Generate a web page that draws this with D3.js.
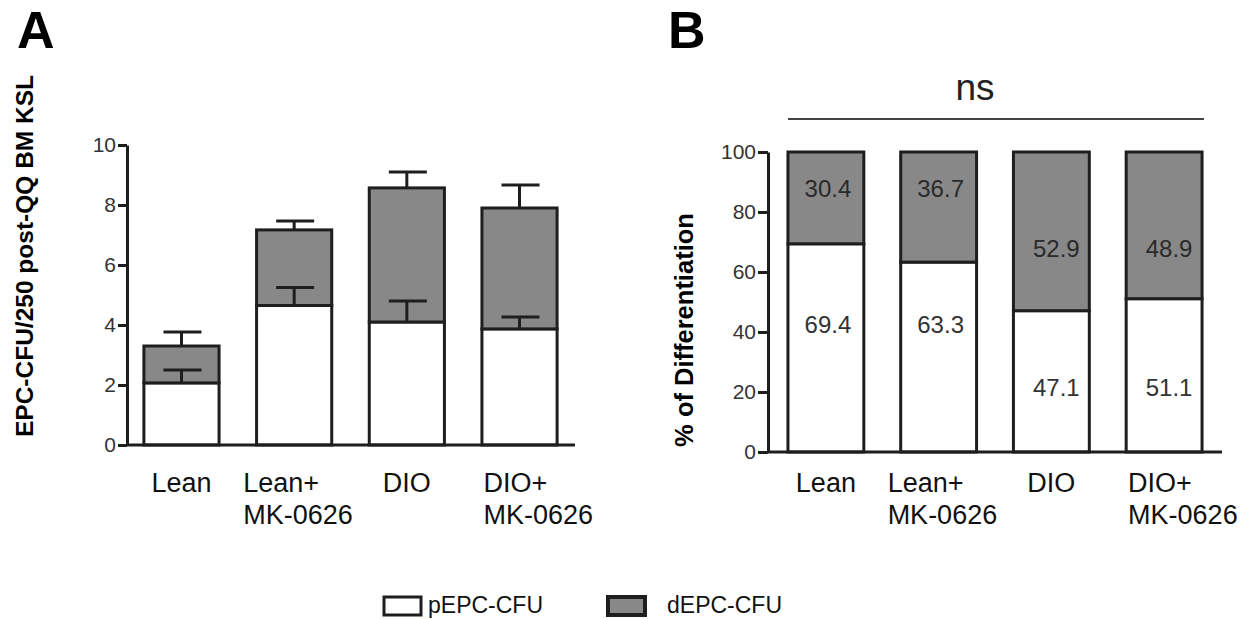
<!DOCTYPE html>
<html>
<head>
<meta charset="utf-8">
<script src="https://cdn.jsdelivr.net/npm/d3@7"></script>
<style>
  body { margin: 0; background: #fff; }
  svg { display: block; font-family: "Liberation Sans", Arial, Helvetica, sans-serif; }
</style>
</head>
<body>
<svg width="1254" height="619"></svg>
<script>
// groups and their two-line tick labels
var groups = ["Lean", "Lean+MK", "DIO", "DIO+MK"];
var groupLabels = [["Lean"], ["Lean+", "MK-0626"], ["DIO"], ["DIO+", "MK-0626"]];

// panel A: colonies per 250 KSL cells (mean, sem)
var pEpc = [2.07, 4.65, 4.1, 3.87];
var pEpcSem = [0.43, 0.6, 0.7, 0.4];
var dEpc = [1.23, 2.52, 4.47, 4.03];
var dEpcSem = [0.47, 0.3, 0.53, 0.77];
var ticksA = [0, 2, 4, 6, 8, 10];

// panel B: % of differentiation
var pPct = [69.4, 63.3, 47.1, 51.1];
var dPct = [30.4, 36.7, 52.9, 48.9];
var ticksB = [0, 20, 40, 60, 80, 100];

var legendNames = ["pEPC-CFU", "dEPC-CFU"];

var ink = "#1e1e1e", grey = "#888888", txt = "#333";
var svg = d3.select("svg");

function styleAxis(g) {
  g.selectAll("path, line").attr("stroke", ink).attr("stroke-width", 3);
  g.selectAll("text").attr("fill", txt).attr("font-size", 21)
    .attr("font-family", "'Liberation Sans', Arial, sans-serif");
}

function xLabels(g, x, y0) {
  groups.forEach(function(k, i) {
    var lines = groupLabels[i];
    var cx = x(k) + x.bandwidth() / 2;
    var t = g.append("text").attr("font-size", 27).attr("fill", "#111")
      .attr("y", y0);
    if (lines.length == 1) {
      t.attr("x", cx).attr("text-anchor", "middle").text(lines[0]);
    } else {
      // left aligned block, shifted a bit left of the bar center
      var left = cx - (i == 1 ? 51 : 36);
      lines.forEach(function(s, j) {
        t.append("tspan").attr("x", left).attr("dy", j == 0 ? 0 : 32).text(s);
      });
    }
  });
}

// ---------- panel A ----------
var xA = d3.scaleBand().domain(groups).range([127, 574]).paddingInner(0.333).paddingOuter(0.15);
var yA = d3.scaleLinear().domain([0, 10]).range([445, 145]);

var gA = svg.append("g");
gA.append("text").attr("x", 17).attr("y", 48).attr("font-size", 52)
  .attr("font-weight", "bold").text("A");

gA.append("g").attr("transform", "translate(127,0)")
  .call(d3.axisLeft(yA).tickValues(ticksA).tickSize(9).tickSizeOuter(0).tickPadding(2))
  .call(styleAxis);

gA.append("text").attr("transform", "translate(33,256) rotate(-90)")
  .attr("text-anchor", "middle").attr("font-size", 24.5).attr("font-weight", "bold")
  .text("EPC-CFU/250 post-QQ BM KSL");

groups.forEach(function(k, i) {
  var x0 = xA(k), w = xA.bandwidth(), cx = x0 + w / 2;
  var top = pEpc[i] + dEpc[i];
  gA.append("rect").attr("x", x0).attr("width", w)
    .attr("y", yA(pEpc[i])).attr("height", yA(0) - yA(pEpc[i]))
    .attr("fill", "#fff").attr("stroke", ink).attr("stroke-width", 3);
  gA.append("rect").attr("x", x0).attr("width", w)
    .attr("y", yA(top)).attr("height", yA(pEpc[i]) - yA(top))
    .attr("fill", grey).attr("stroke", ink).attr("stroke-width", 3);
  // error bars
  [[pEpc[i], pEpcSem[i]], [top, dEpcSem[i]]].forEach(function(e) {
    var ya = yA(e[0]), yb = yA(e[0] + e[1]);
    gA.append("line").attr("x1", cx).attr("x2", cx).attr("y1", ya).attr("y2", yb)
      .attr("stroke", ink).attr("stroke-width", 3);
    gA.append("line").attr("x1", cx - 18).attr("x2", cx + 20).attr("y1", yb).attr("y2", yb)
      .attr("stroke", ink).attr("stroke-width", 3);
  });
});

gA.append("g").attr("transform", "translate(0,445)")
  .call(d3.axisBottom(xA).tickSize(0).tickFormat(""))
  .call(styleAxis)
  .select(".domain").attr("d", "M127,0H575");

xLabels(gA, xA, 492);

// ---------- panel B ----------
var xB = d3.scaleBand().domain(groups).range([768, 1222]).paddingInner(0.327).paddingOuter(0.177);
var yB = d3.scaleLinear().domain([0, 100]).range([452, 152]);

var gB = svg.append("g");
gB.append("text").attr("x", 668).attr("y", 48).attr("font-size", 52)
  .attr("font-weight", "bold").text("B");

gB.append("g").attr("transform", "translate(768,0)")
  .call(d3.axisLeft(yB).tickValues(ticksB).tickSize(10).tickSizeOuter(0).tickPadding(2))
  .call(styleAxis);

gB.append("text").attr("transform", "translate(693,330) rotate(-90)")
  .attr("text-anchor", "middle").attr("font-size", 25.5).attr("font-weight", "bold")
  .text("% of Differentiation");

groups.forEach(function(k, i) {
  var x0 = xB(k), w = xB.bandwidth(), cx = x0 + w / 2;
  gB.append("rect").attr("x", x0).attr("width", w)
    .attr("y", yB(pPct[i])).attr("height", yB(0) - yB(pPct[i]))
    .attr("fill", "#fff").attr("stroke", ink).attr("stroke-width", 3);
  gB.append("rect").attr("x", x0).attr("width", w)
    .attr("y", yB(100)).attr("height", yB(pPct[i]) - yB(100))
    .attr("fill", grey).attr("stroke", ink).attr("stroke-width", 3);
  var dAt = dPct[i] < 40 ? 88 : 68;
  var pAt = pPct[i] > 60 ? 42.5 : 21.5;
  var shift = i < 2 ? 2 : 5;
  gB.append("text").attr("x", cx + shift).attr("y", yB(dAt)).attr("dy", "0.36em")
    .attr("text-anchor", "middle").attr("font-size", 24).attr("fill", "#2a2a2a")
    .text(d3.format(".1f")(dPct[i]));
  gB.append("text").attr("x", cx + shift).attr("y", yB(pAt)).attr("dy", "0.36em")
    .attr("text-anchor", "middle").attr("font-size", 24).attr("fill", txt)
    .text(d3.format(".1f")(pPct[i]));
});

gB.append("g").attr("transform", "translate(0,452)")
  .call(d3.axisBottom(xB).tickSize(0).tickFormat(""))
  .call(styleAxis)
  .select(".domain").attr("d", "M768,0H1222");

xLabels(gB, xB, 492);

// ns bracket
gB.append("line").attr("x1", xB(groups[0])).attr("x2", xB(groups[3]) + xB.bandwidth() + 2)
  .attr("y1", 119).attr("y2", 119).attr("stroke", "#444").attr("stroke-width", 2);
gB.append("text").attr("x", 975).attr("y", 100).attr("text-anchor", "middle")
  .attr("font-size", 37).attr("fill", "#222").text("ns");

// ---------- legend ----------
var lg = svg.append("g");
var legendX = [384, 608], legendTextX = [428, 667];
legendNames.forEach(function(n, i) {
  lg.append("rect").attr("x", legendX[i]).attr("y", 597).attr("width", 37).attr("height", 18)
    .attr("fill", i == 0 ? "#fff" : grey).attr("stroke", ink).attr("stroke-width", i == 0 ? 3 : 4);
  lg.append("text").attr("x", legendTextX[i]).attr("y", 613).attr("font-size", 23)
    .attr("fill", "#111").text(n);
});
</script>
</body>
</html>
